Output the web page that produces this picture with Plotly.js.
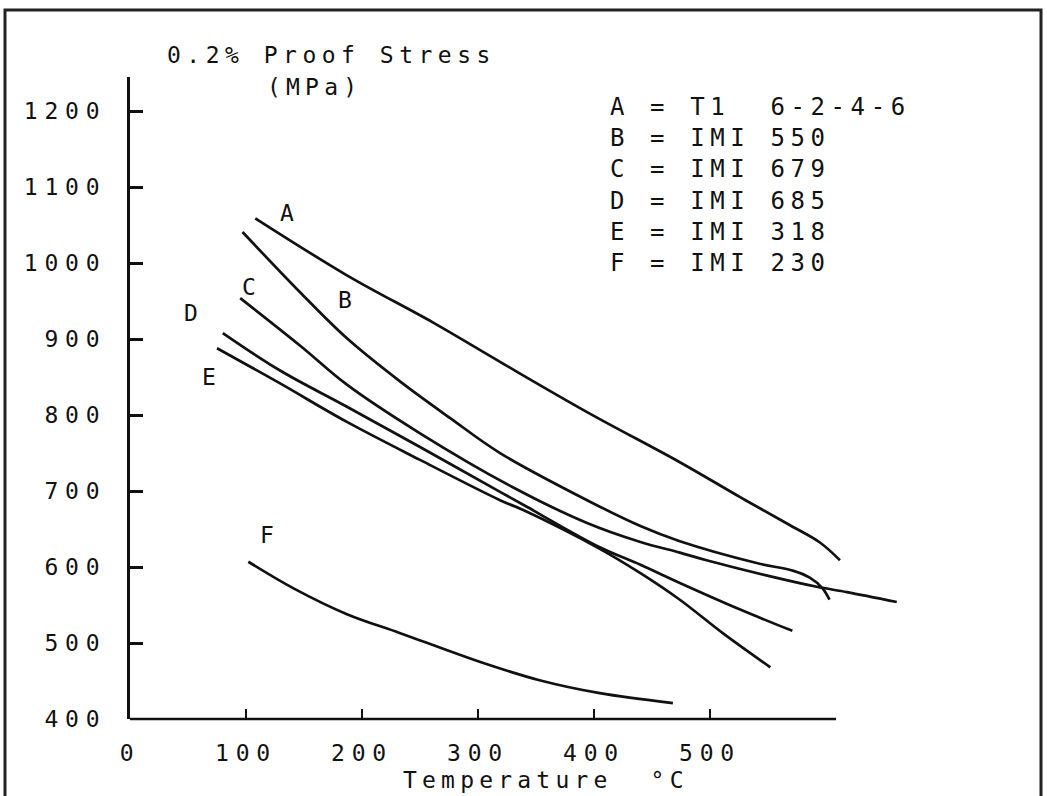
<!DOCTYPE html>
<html>
<head>
<meta charset="utf-8">
<script src="https://cdn.plot.ly/plotly-3.0.1.min.js"></script>
<style>
html, body { margin: 0; padding: 0; background: #ffffff; }
#chart { width: 1047px; height: 796px; }
.xtick text, .ytick text { letter-spacing: 6.8px; }
</style>
</head>
<body>
<div id="chart"></div>
<script>
// ---- data (temperature in °C, 0.2% proof stress in MPa) ----
const curveNames = ['A', 'B', 'C', 'D', 'E', 'F'];

const tempA   = [108, 187, 261, 319, 394, 474, 526, 569, 595, 612];
const stressA = [1059, 984, 922, 870, 804, 738, 692, 655, 632, 609];

const tempB   = [97, 147, 187, 233, 276, 319, 394, 440, 474, 541, 572, 586, 597, 603];
const stressB = [1041, 961, 901, 844, 796, 750, 688, 654, 634, 605, 595, 586, 572, 557];

const tempC   = [95, 147, 187, 250, 330, 394, 440, 474, 497, 554, 592, 618, 661];
const stressC = [954, 891, 840, 776, 705, 658, 633, 619, 609, 587, 574, 567, 554];

const tempD   = [80, 129, 187, 250, 319, 339, 405, 440, 474, 526, 571];
const stressD = [908, 859, 811, 758, 699, 682, 626, 603, 579, 544, 516];

const tempE   = [75, 129, 187, 250, 319, 339, 405, 440, 474, 511, 552];
const stressE = [888, 842, 791, 741, 688, 675, 624, 592, 557, 513, 468];

const tempF   = [102, 141, 187, 233, 302, 353, 405, 468];
const stressF = [607, 572, 538, 513, 475, 451, 434, 421];

const xTickVals = [0, 100, 200, 300, 400, 500];
const yTickVals = [400, 500, 600, 700, 800, 900, 1000, 1100, 1200];

const legendLines = [
  'A = T1\u00A0\u00A06-2-4-6',
  'B = IMI 550',
  'C = IMI 679',
  'D = IMI 685',
  'E = IMI 318',
  'F = IMI 230'
];

const titleLine1 = '0.2% Proof Stress';
const titleLine2 = '(MPa)';
const xTitle = 'Temperature\u00A0\u00A0°C';

// ---- styling ----
const INK = '#111111';
const FONT = 'DejaVu Sans Mono, Liberation Mono, monospace';

const temps = [tempA, tempB, tempC, tempD, tempE, tempF];
const stresses = [stressA, stressB, stressC, stressD, stressE, stressF];

const traces = curveNames.map((name, i) => ({
  type: 'scatter',
  mode: 'lines',
  name: name,
  x: temps[i],
  y: stresses[i],
  line: { color: INK, width: 2.7, shape: 'spline', smoothing: 1.0 },
  hoverinfo: 'skip',
  showlegend: false
}));

function spaced(txt, px) {
  return '<span style="letter-spacing:' + px + 'px">' + txt + '</span>';
}

// curve letter label positions (in axis units)
const labelPos = {
  A: [135, 1066], B: [185, 952], C: [103, 969],
  D: [53, 934],  E: [68, 850],  F: [118, 642]
};

const annotations = curveNames.map(n => ({
  text: n, xref: 'x', yref: 'y', x: labelPos[n][0], y: labelPos[n][1],
  showarrow: false, font: { family: FONT, size: 23, color: INK },
  xanchor: 'center', yanchor: 'middle'
}));

annotations.push({
  text: spaced(titleLine1, 5.5), xref: 'paper', yref: 'paper',
  x: 0.0422, y: 1.0343, xanchor: 'left', yanchor: 'middle', showarrow: false,
  font: { family: FONT, size: 23, color: INK }
});
annotations.push({
  text: spaced(titleLine2, 5.2), xref: 'paper', yref: 'paper',
  x: 0.1627, y: 0.9844, xanchor: 'left', yanchor: 'middle', showarrow: false,
  font: { family: FONT, size: 23, color: INK }
});
annotations.push({
  text: legendLines.map(l => spaced(l, 5.6)).join('<br>'), xref: 'paper', yref: 'paper',
  x: 0.576, y: 0.8318, xanchor: 'left', yanchor: 'middle', align: 'left', showarrow: false,
  font: { family: FONT, size: 24, color: INK }
});
annotations.push({
  text: spaced(xTitle, 5.2), xref: 'paper', yref: 'paper',
  x: 0.3265, y: -0.095, xanchor: 'left', yanchor: 'middle', showarrow: false,
  font: { family: FONT, size: 23, color: INK }
});

const layout = {
  width: 1047,
  height: 796,
  autosize: false,
  margin: { l: 130, r: 87, t: 77, b: 77, pad: 0 },
  paper_bgcolor: '#ffffff',
  plot_bgcolor: '#ffffff',
  showlegend: false,
  xaxis: {
    range: [0, 715.5],
    tickmode: 'array',
    tickvals: xTickVals,
    ticktext: xTickVals.map(String),
    ticks: 'inside', ticklen: 10, tickwidth: 2.5, tickcolor: INK,
    showline: false, showgrid: false, zeroline: false,
    tickfont: { family: FONT, size: 23, color: INK },
    ticklabelstandoff: 18,
    fixedrange: true
  },
  yaxis: {
    range: [400, 1245],
    tickmode: 'array',
    tickvals: yTickVals,
    ticktext: yTickVals.map(String),
    ticks: 'inside', ticklen: 13, tickwidth: 3, tickcolor: INK,
    showline: true, linewidth: 3, linecolor: INK,
    showgrid: false, zeroline: false,
    tickfont: { family: FONT, size: 23, color: INK },
    ticklabelstandoff: 16,
    fixedrange: true
  },
  shapes: [
    // x axis base line (ends short of the plotting area, as in the original)
    { type: 'line', xref: 'paper', yref: 'paper', x0: 0, x1: 0.8506, y0: 0, y1: 0,
      line: { color: INK, width: 2.6 } },
    // figure frame
    { type: 'rect', xref: 'paper', yref: 'paper', x0: -0.1506, x1: 1.0976, y0: -0.2, y1: 1.1044,
      line: { color: '#222222', width: 3 }, fillcolor: 'rgba(0,0,0,0)' }
  ],
  annotations: annotations
};

Plotly.newPlot('chart', traces, layout, { staticPlot: true, displayModeBar: false });
</script>
</body>
</html>
